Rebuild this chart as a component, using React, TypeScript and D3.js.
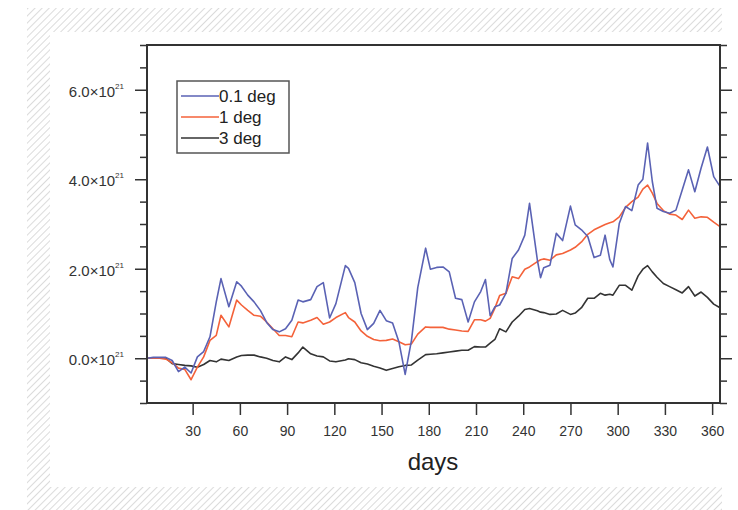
import React, { useRef, useEffect } from "react";
import * as d3 from "d3";

// day of year
const days = [
  1, 5, 9, 13, 17, 21, 25, 29, 33, 37, 41, 45, 48, 53, 58, 61, 65, 69, 73, 77,
  81, 85, 89, 93, 97, 100, 105, 109, 113, 117, 121, 127, 129, 133, 137, 141,
  145, 149, 153, 157, 161, 165, 169, 173, 178, 181, 185, 189, 193, 197, 201,
  205, 209, 213, 216, 219, 222, 225, 229, 233, 237, 241, 244, 249, 251, 253,
  257, 261, 265, 270, 273, 277, 281, 285, 289, 292, 295, 297, 301, 305, 309,
  313, 316, 319, 322, 325, 329, 333, 337, 341, 345, 349, 353, 357, 361, 365,
];

// values in units of 1e21
const deg01 = [
  0, 0.02, 0.02, 0.02, -0.05, -0.3, -0.2, -0.33, 0.03, 0.15, 0.48, 1.26, 1.78,
  1.15, 1.71, 1.61, 1.41, 1.26, 1.07, 0.8, 0.64, 0.59, 0.66, 0.85, 1.3, 1.26,
  1.31, 1.6, 1.69, 0.9, 1.22, 2.07, 2.01, 1.69, 1.0, 0.64, 0.78, 1.07, 0.84,
  0.79, 0.37, -0.36, 0.4, 1.58, 2.46, 1.99, 2.03, 2.04, 1.93, 1.34, 1.31, 0.81,
  1.26, 1.49, 1.76, 0.95, 1.15, 1.19, 1.45, 2.23, 2.42, 2.75, 3.46, 2.19, 1.8,
  2.02, 2.08, 2.79, 2.63, 3.4, 2.98, 2.87, 2.72, 2.25, 2.3, 2.75, 2.2, 2.04,
  3.01, 3.39, 3.3, 3.87, 4.0, 4.81, 3.95, 3.35, 3.28, 3.24, 3.31, 3.76, 4.21,
  3.72, 4.25, 4.72, 4.06, 3.84,
];

const deg1 = [
  0, 0, 0, -0.02, -0.1, -0.22, -0.25, -0.48, -0.2, 0.03, 0.4, 0.51, 0.96, 0.7,
  1.3, 1.19, 1.07, 0.96, 0.94, 0.81, 0.66, 0.51, 0.51, 0.48, 0.81, 0.79, 0.85,
  0.91, 0.76, 0.81, 0.91, 1.02, 0.91, 0.81, 0.61, 0.49, 0.42, 0.39, 0.4, 0.43,
  0.37, 0.3, 0.32, 0.54, 0.7, 0.69, 0.69, 0.69, 0.65, 0.63, 0.61, 0.6, 0.86,
  0.86, 0.83, 0.89, 1.12, 1.4, 1.45, 1.82, 1.78, 1.99, 2.04, 2.16, 2.2, 2.22,
  2.19, 2.31, 2.34, 2.42, 2.48, 2.6, 2.77, 2.87, 2.94, 2.99, 3.03, 3.05, 3.16,
  3.37, 3.5, 3.6, 3.78, 3.87, 3.69, 3.46, 3.3, 3.22, 3.2, 3.1, 3.31, 3.13,
  3.16, 3.15, 3.04, 2.94,
];

const deg3 = [
  0, 0, 0, 0, -0.12, -0.14, -0.16, -0.17, -0.2, -0.14, -0.05, -0.08, -0.02,
  -0.05, 0.03, 0.06, 0.07, 0.07, 0.03, 0.0, -0.05, -0.08, 0.03, -0.03, 0.12,
  0.25, 0.1, 0.05, 0.03, -0.06, -0.08, -0.04, -0.01, -0.03, -0.1, -0.13, -0.18,
  -0.22, -0.27, -0.23, -0.19, -0.16, -0.15, -0.04, 0.08, 0.09, 0.1, 0.12, 0.14,
  0.16, 0.18, 0.18, 0.26, 0.25, 0.25, 0.34, 0.42, 0.66, 0.59, 0.81, 0.94, 1.09,
  1.11, 1.06, 1.03, 1.02, 0.98, 0.99, 1.07, 0.98, 1.01, 1.13, 1.34, 1.34, 1.45,
  1.41, 1.43, 1.41, 1.63, 1.63, 1.52, 1.84, 1.99, 2.07, 1.93, 1.81, 1.67, 1.6,
  1.53, 1.46, 1.6, 1.39, 1.48, 1.36, 1.21, 1.13,
];

const seriesNames = ["0.1 deg", "1 deg", "3 deg"];
const seriesColors = ["#5a62b4", "#f4623a", "#333333"];
const xTicks = [30, 60, 90, 120, 150, 180, 210, 240, 270, 300, 330, 360];
const yMajor = [0, 2, 4, 6];
const yMinor = [-1, -0.5, 0.5, 1, 1.5, 2.5, 3, 3.5, 4.5, 5, 5.5, 6.5, 7];

const FONT = "Liberation Sans, Arial, sans-serif";

const App = () => {
  const svgRef = useRef(null);

  useEffect(() => {
    const svg = d3.select(svgRef.current);
    svg.selectAll("*").remove();
    const W = 738;
    const H = 510;
    const left = 147,
      right = 720,
      top = 45,
      bottom = 403;

    // hatched frame
    const defs = svg.append("defs");
    defs
      .append("pattern")
      .attr("id", "hatch")
      .attr("patternUnits", "userSpaceOnUse")
      .attr("width", 5)
      .attr("height", 5)
      .attr("patternTransform", "rotate(45)")
      .append("line")
      .attr("x1", 0)
      .attr("y1", 0)
      .attr("x2", 0)
      .attr("y2", 5)
      .attr("stroke", "#bdbdbd")
      .attr("stroke-width", 1.1);
    defs
      .append("clipPath")
      .attr("id", "plotClip")
      .append("rect")
      .attr("x", left)
      .attr("y", top)
      .attr("width", right - left)
      .attr("height", bottom - top);

    svg.append("rect").attr("width", W).attr("height", H).attr("fill", "#fff");
    svg
      .append("rect")
      .attr("x", 27)
      .attr("y", 8)
      .attr("width", 722 - 27)
      .attr("height", H - 8)
      .attr("fill", "url(#hatch)");
    svg
      .append("rect")
      .attr("x", 50)
      .attr("y", 32)
      .attr("width", W - 50)
      .attr("height", 487 - 32)
      .attr("fill", "#fff");

    const x = d3.scaleLinear().domain([1, 365]).range([left, right]);
    const y = d3.scaleLinear().domain([-1, 7]).range([bottom, top]);

    // lines
    const line = d3
      .line()
      .x((d) => x(d[0]))
      .y((d) => y(d[1]));
    const series = [deg01, deg1, deg3];
    const g = svg.append("g").attr("clip-path", "url(#plotClip)");
    [2, 1, 0].forEach((i) => {
      g.append("path")
        .datum(days.map((d, j) => [d, series[i][j]]))
        .attr("d", line)
        .attr("fill", "none")
        .attr("stroke", seriesColors[i])
        .attr("stroke-width", 1.6)
        .attr("stroke-linejoin", "round");
    });

    const styleAxis = (sel) => {
      sel.select(".domain").remove();
      sel.selectAll(".tick line").attr("stroke", "#333").attr("stroke-width", 1.5);
    };

    // x axis
    svg
      .append("g")
      .attr("transform", `translate(0,${bottom})`)
      .call(d3.axisBottom(x).tickValues(xTicks).tickSize(12).tickPadding(11))
      .call(styleAxis)
      .call((s) =>
        s
          .selectAll(".tick text")
          .attr("font-family", FONT)
          .attr("font-size", 14)
          .attr("fill", "#333")
      );

    // y axes, major and minor, both sides
    [
      [d3.axisLeft, left],
      [d3.axisRight, right],
    ].forEach(([ax, pos]) => {
      svg
        .append("g")
        .attr("transform", `translate(${pos},0)`)
        .call(ax(y).tickValues(yMajor).tickSize(12).tickFormat(() => ""))
        .call(styleAxis);
      svg
        .append("g")
        .attr("transform", `translate(${pos},0)`)
        .call(ax(y).tickValues(yMinor).tickSize(7).tickFormat(() => ""))
        .call(styleAxis);
    });

    // y tick labels
    const lab = svg
      .selectAll(".ylab")
      .data(yMajor)
      .enter()
      .append("text")
      .attr("x", 124)
      .attr("y", (d) => y(d) + 7)
      .attr("text-anchor", "end")
      .attr("font-family", FONT)
      .attr("font-size", 15)
      .attr("fill", "#333");
    lab.append("tspan").text((d) => `${d.toFixed(1)}×10`);
    lab
      .append("tspan")
      .attr("font-size", 8)
      .attr("dy", -8)
      .text("21");

    // frame
    svg
      .append("rect")
      .attr("x", left)
      .attr("y", top)
      .attr("width", right - left)
      .attr("height", bottom - top)
      .attr("fill", "none")
      .attr("stroke", "#333")
      .attr("stroke-width", 2);

    // x title
    svg
      .append("text")
      .attr("x", 433)
      .attr("y", 470)
      .attr("text-anchor", "middle")
      .attr("font-family", FONT)
      .attr("font-size", 24)
      .attr("fill", "#222")
      .text("days");

    // legend
    const lg = svg.append("g");
    lg.append("rect")
      .attr("x", 177)
      .attr("y", 81)
      .attr("width", 112)
      .attr("height", 72)
      .attr("fill", "#fff")
      .attr("stroke", "#555")
      .attr("stroke-width", 1.5);
    const rows = lg
      .selectAll(".row")
      .data(seriesNames)
      .enter()
      .append("g")
      .attr("transform", (d, i) => `translate(0,${96 + i * 21})`);
    rows
      .append("line")
      .attr("x1", 181)
      .attr("x2", 219)
      .attr("stroke", (d, i) => seriesColors[i])
      .attr("stroke-width", 1.6);
    rows
      .append("text")
      .attr("x", 219)
      .attr("dy", "0.36em")
      .attr("font-family", FONT)
      .attr("font-size", 17)
      .attr("fill", "#222")
      .text((d) => d);
  }, []);

  return (
    <svg
      ref={svgRef}
      width={738}
      height={510}
      style={{ position: "absolute", left: 0, top: 0 }}
    ></svg>
  );
};

export default App;
